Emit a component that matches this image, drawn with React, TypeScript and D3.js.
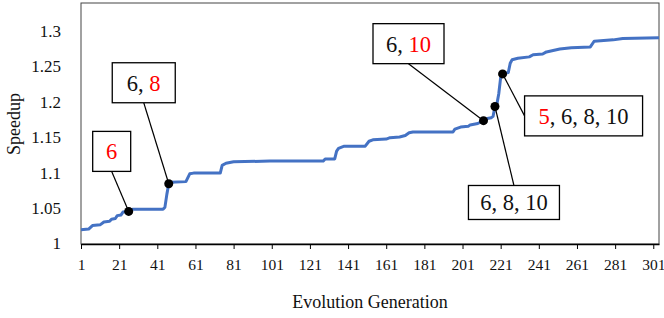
import React, { useEffect, useRef } from 'react';
import * as d3 from 'd3';

// 每一段平台的起止点 (代数, 加速比)
const generations: number[] = [
  1, 5, 7, 11, 13, 16, 17, 19, 20, 22, 23, 26, 28, 44, 45, 46, 47, 48, 56, 58, 60, 74, 75, 77, 81, 100,
  128, 129, 134, 135, 136, 139, 150, 152, 154, 161, 163, 168, 171, 173, 175, 196, 197, 200, 204, 205,
  209, 212, 214, 216, 217, 218, 219, 220, 221, 222, 225, 226, 227, 230, 236, 238, 243, 245, 252, 258,
  268, 270, 280, 285, 304
];
const speedups: number[] = [
  1.02, 1.021, 1.026, 1.027, 1.031, 1.032, 1.035, 1.036, 1.04, 1.041, 1.045, 1.046, 1.049, 1.049, 1.052,
  1.07, 1.085, 1.087, 1.088, 1.099, 1.1, 1.1, 1.111, 1.114, 1.116, 1.117, 1.117, 1.12, 1.12, 1.131,
  1.135, 1.138, 1.138, 1.145, 1.147, 1.148, 1.15, 1.151, 1.153, 1.157, 1.158, 1.158, 1.162, 1.165,
  1.166, 1.168, 1.17, 1.174, 1.177, 1.178, 1.18, 1.194, 1.197, 1.212, 1.235, 1.24, 1.242, 1.255, 1.26,
  1.262, 1.264, 1.267, 1.268, 1.271, 1.275, 1.277, 1.278, 1.286, 1.288, 1.29, 1.291
];

const xTicks: number[] = d3.range(1, 302, 20);
const yTicks: number[] = [1, 1.05, 1.1, 1.15, 1.2, 1.25, 1.3];

// 标注: 所在代数与文字 (红色部分为新增)
const markerGens: number[] = [26, 47, 212, 218, 222];
const markerLabels: { text: string; red: boolean }[][] = [
  [{ text: '6', red: true }],
  [{ text: '6, ', red: false }, { text: '8', red: true }],
  [{ text: '6, ', red: false }, { text: '10', red: true }],
  [{ text: '6, 8, 10', red: false }],
  [{ text: '5', red: true }, { text: ', 6, 8, 10', red: false }]
];

// 标注框布局 (相对标记点的偏移)
const boxLayout = [
  { dx: -17, dy: -60, w: 38, h: 40, anchor: 'bottom' },
  { dx: -25, dy: -101, w: 63, h: 40, anchor: 'bottom' },
  { dx: -75, dy: -77, w: 71, h: 40, anchor: 'bottom' },
  { dx: 19, dy: 96, w: 91, h: 34, anchor: 'top' },
  { dx: 81, dy: 42, w: 118, h: 40, anchor: 'left' }
];

const FONT = "'Liberation Serif', 'Times New Roman', serif";

const App: React.FC = () => {
  const svgRef = useRef<SVGSVGElement>(null);

  useEffect(() => {
    document.body.style.margin = '0';
    if (!svgRef.current) return;

    const svg = d3.select(svgRef.current);
    svg.selectAll('*').remove();

    const left = 81, right = 659, top = 3, bottom = 244;

    const x = d3.scaleLinear().domain([1, 304]).range([left, right]);
    const y = d3.scaleLinear().domain([1, 1.34]).range([bottom, top]);

    // 绘图区边框
    svg.append('rect')
      .attr('x', left)
      .attr('y', top)
      .attr('width', right - left)
      .attr('height', bottom - top)
      .attr('fill', 'none')
      .attr('stroke', '#444')
      .attr('stroke-width', 1);

    // x 轴
    const xAxis = svg.append('g')
      .attr('transform', `translate(0, ${bottom})`)
      .call(d3.axisBottom(x).tickValues(xTicks).tickSize(5).tickSizeOuter(0).tickFormat(d3.format('d')));
    xAxis.attr('font-family', FONT).attr('font-size', 15.5);
    xAxis.select('.domain').attr('stroke', '#000').attr('stroke-width', 1.3);
    xAxis.selectAll('.tick line').attr('stroke', '#000');
    xAxis.selectAll('.tick text')
      .attr('y', 21)
      .attr('dy', '0.32em')
      .attr('fill', '#111');

    // y 轴标签 (无刻度线)
    svg.append('g')
      .attr('font-family', FONT)
      .attr('font-size', 17)
      .selectAll('text')
      .data(yTicks)
      .enter()
      .append('text')
      .attr('x', 61)
      .attr('y', d => y(d))
      .attr('dy', '0.32em')
      .attr('text-anchor', 'end')
      .attr('fill', '#111')
      .text(d => String(d));

    // 轴标题
    svg.append('text')
      .attr('transform', 'translate(20, 124) rotate(-90)')
      .attr('text-anchor', 'middle')
      .attr('font-family', FONT)
      .attr('font-size', 18)
      .attr('fill', '#111')
      .text('Speedup');

    svg.append('text')
      .attr('x', 370)
      .attr('y', 308)
      .attr('text-anchor', 'middle')
      .attr('font-family', FONT)
      .attr('font-size', 18)
      .attr('fill', '#111')
      .text('Evolution Generation');

    // 折线
    const points: [number, number][] = generations.map((g, i) => [g, speedups[i]]);
    const line = d3.line<[number, number]>()
      .x(d => x(d[0]))
      .y(d => y(d[1]));

    svg.append('path')
      .datum(points)
      .attr('d', line)
      .attr('fill', 'none')
      .attr('stroke', '#4472C4')
      .attr('stroke-width', 3)
      .attr('stroke-linejoin', 'round');

    // 标注
    markerGens.forEach((g, i) => {
      const idx = generations.indexOf(g);
      const mx = x(g);
      const my = y(speedups[idx]);
      const b = boxLayout[i];
      const cx = mx + b.dx;
      const cy = my + b.dy;

      let ax = cx, ay = cy + b.h / 2;
      if (b.anchor === 'top') ay = cy - b.h / 2;
      if (b.anchor === 'left') { ax = cx - b.w / 2; ay = cy; }

      svg.append('line')
        .attr('x1', ax)
        .attr('y1', ay)
        .attr('x2', mx)
        .attr('y2', my)
        .attr('stroke', '#000')
        .attr('stroke-width', 1.2);

      svg.append('rect')
        .attr('x', cx - b.w / 2)
        .attr('y', cy - b.h / 2)
        .attr('width', b.w)
        .attr('height', b.h)
        .attr('fill', '#fff')
        .attr('stroke', '#000')
        .attr('stroke-width', 1.3);

      const t = svg.append('text')
        .attr('x', cx)
        .attr('y', cy)
        .attr('dy', '0.35em')
        .attr('text-anchor', 'middle')
        .attr('font-family', FONT)
        .attr('font-size', 22.5)
        .attr('xml:space', 'preserve');
      markerLabels[i].forEach(part => {
        t.append('tspan')
          .attr('fill', part.red ? '#ff0000' : '#111')
          .text(part.text);
      });

      svg.append('circle')
        .attr('cx', mx)
        .attr('cy', my)
        .attr('r', 4.5)
        .attr('fill', '#000');
    });
  }, []);

  return (
    <svg
      ref={svgRef}
      width={664}
      height={318}
      style={{ display: 'block', background: '#fff' }}
    />
  );
};

export default App;
